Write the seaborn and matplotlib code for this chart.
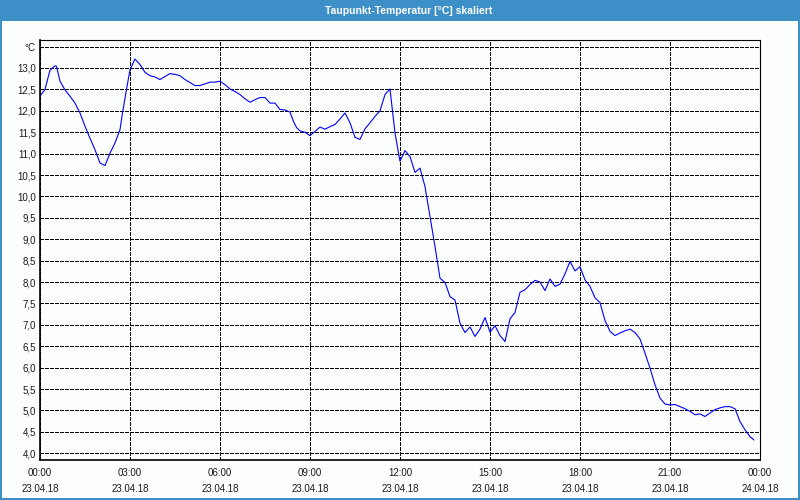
import numpy as np
import pandas as pd
import matplotlib
matplotlib.use("Agg")
import matplotlib.pyplot as plt
from matplotlib.patches import Rectangle
import seaborn as sns

# ---- data (minutes since 23.04.18 00:00, dew point in °C) ----
minutes = [0, 10, 20, 30, 33, 40, 50, 60, 70, 80, 90, 100, 110, 120, 130, 140, 150, 160, 165, 173,
           180, 190, 200, 210, 220, 230, 240, 250, 260, 270, 280, 290, 300, 310, 320, 330, 340, 350,
           360, 370, 380, 390, 400, 410, 420, 430, 440, 450, 460, 470, 480, 490, 500, 507, 513, 520,
           530, 540, 550, 560, 570, 580, 590, 600, 610, 620, 630, 640, 650, 660, 670, 680, 690, 700,
           707, 710, 717, 720, 730, 740, 750, 760, 770, 780, 790, 800, 810, 820, 830, 840, 850, 860,
           870, 880, 890, 900, 910, 920, 930, 940, 950, 960, 970, 980, 990, 1000, 1010, 1020, 1030,
           1040, 1050, 1060, 1070, 1080, 1090, 1100, 1110, 1120, 1130, 1140, 1150, 1160, 1170, 1180,
           1190, 1200, 1210, 1220, 1230, 1240, 1250, 1260, 1270, 1280, 1290, 1300, 1310, 1320, 1330,
           1340, 1350, 1360, 1370, 1380, 1390, 1400, 1410, 1420, 1428]
dewpoint = [12.34, 12.50, 12.95, 13.05, 13.04, 12.69, 12.49, 12.34, 12.18, 11.95, 11.64, 11.36, 11.09,
            10.78, 10.72, 11.01, 11.25, 11.56, 11.95, 12.50, 12.96, 13.21, 13.08, 12.90, 12.82, 12.79,
            12.73, 12.80, 12.87, 12.85, 12.82, 12.73, 12.66, 12.59, 12.59, 12.63, 12.67, 12.67, 12.69,
            12.61, 12.51, 12.45, 12.38, 12.28, 12.20, 12.26, 12.31, 12.31, 12.18, 12.18, 12.03, 12.02,
            11.97, 11.75, 11.61, 11.53, 11.50, 11.42, 11.52, 11.62, 11.57, 11.63, 11.68, 11.81, 11.95,
            11.72, 11.38, 11.33, 11.58, 11.72, 11.87, 12.00, 12.38, 12.51, 11.80, 11.48, 11.01, 10.82,
            11.07, 10.93, 10.56, 10.66, 10.23, 9.53, 8.83, 8.09, 7.99, 7.66, 7.58, 7.04, 6.82, 6.95,
            6.73, 6.90, 7.17, 6.83, 6.98, 6.75, 6.61, 7.14, 7.29, 7.76, 7.82, 7.94, 8.04, 8.00, 7.80,
            8.07, 7.90, 7.95, 8.19, 8.48, 8.26, 8.36, 8.05, 7.90, 7.63, 7.52, 7.10, 6.85, 6.75, 6.81,
            6.86, 6.90, 6.82, 6.67, 6.34, 5.99, 5.60, 5.29, 5.15, 5.13, 5.14, 5.09, 5.04, 4.98, 4.90,
            4.92, 4.86, 4.94, 5.02, 5.06, 5.09, 5.09, 5.04, 4.74, 4.55, 4.39, 4.31]

x_tick_hours = [0, 3, 6, 9, 12, 15, 18, 21, 24]
x_tick_labels = ["00:00\n23.04.18", "03:00\n23.04.18", "06:00\n23.04.18", "09:00\n23.04.18",
                 "12:00\n23.04.18", "15:00\n23.04.18", "18:00\n23.04.18", "21:00\n23.04.18",
                 "00:00\n24.04.18"]
y_ticks = [4.0, 4.5, 5.0, 5.5, 6.0, 6.5, 7.0, 7.5, 8.0, 8.5, 9.0, 9.5, 10.0, 10.5, 11.0, 11.5,
           12.0, 12.5, 13.0, 13.5]
y_tick_labels = ["4,0", "4,5", "5,0", "5,5", "6,0", "6,5", "7,0", "7,5", "8,0", "8,5", "9,0", "9,5",
                 "10,0", "10,5", "11,0", "11,5", "12,0", "12,5", "13,0", "°C"]
title = "Taupunkt-Temperatur [°C] skaliert"

df = pd.DataFrame({"hour": np.array(minutes) / 60.0, "temp": dewpoint})

sns.set_style("white")
plt.rcParams["font.family"] = ["Liberation Sans", "DejaVu Sans"]

W, H = 800, 500
fig = plt.figure(figsize=(8, 5), dpi=100)
fig.patch.set_facecolor("#fcfdfd")

blue = "#3c8fc7"
# title bar and frame
fig.add_artist(Rectangle((0, 1 - 21 / H), 1, 21 / H, transform=fig.transFigure,
                         facecolor=blue, edgecolor="none", zorder=0))
fig.add_artist(Rectangle((0, 0), 2 / W, 1, transform=fig.transFigure,
                         facecolor=blue, edgecolor="none"))
fig.add_artist(Rectangle((1 - 2 / W, 0), 2 / W, 1, transform=fig.transFigure,
                         facecolor=blue, edgecolor="none"))
fig.add_artist(Rectangle((0, 0), 1, 2.5 / H, transform=fig.transFigure,
                         facecolor=blue, edgecolor="none"))
fig.text(409 / W, 1 - 10.5 / H, title, color="white", ha="center", va="center",
         fontsize=7.5, fontweight="bold")

ax = fig.add_axes([40 / W, 40 / H, 720 / W, 420 / H])
ax.set_facecolor("#fcfdfd")

sns.lineplot(data=df, x="hour", y="temp", ax=ax, color="#0000ff", linewidth=0.8)

ax.set_xlim(0, 24)
ax.set_ylim(3.843, 13.654)

ax.set_xticks(x_tick_hours)
ax.set_xticklabels(x_tick_labels, fontsize=7, color="#1a1a1a", linespacing=1.65)
ax.set_xticks(np.arange(0, 25, 1), minor=True)
ax.set_yticks(y_ticks)
ax.set_yticklabels(y_tick_labels, fontsize=7, color="#1a1a1a")

ax.tick_params(axis="x", which="major", length=3, width=0.8, direction="out", pad=3, color="black")
ax.tick_params(axis="x", which="minor", length=3, width=0.8, direction="out", color="black")
ax.tick_params(axis="y", which="both", length=0, pad=3)

ax.grid(True, which="major", axis="both", color="black", linewidth=0.72,
        linestyle=(0, (3, 2)), antialiased=False)
ax.set_axisbelow(True)

for side in ["left", "bottom"]:
    ax.spines[side].set_linewidth(1.2)
    ax.spines[side].set_color("black")
for side in ["top", "right"]:
    ax.spines[side].set_linewidth(0.8)
    ax.spines[side].set_color("black")
    ax.spines[side].set_visible(True)

ax.set_xlabel("")
ax.set_ylabel("")

fig.savefig("out.png", dpi=100, facecolor=fig.get_facecolor())
